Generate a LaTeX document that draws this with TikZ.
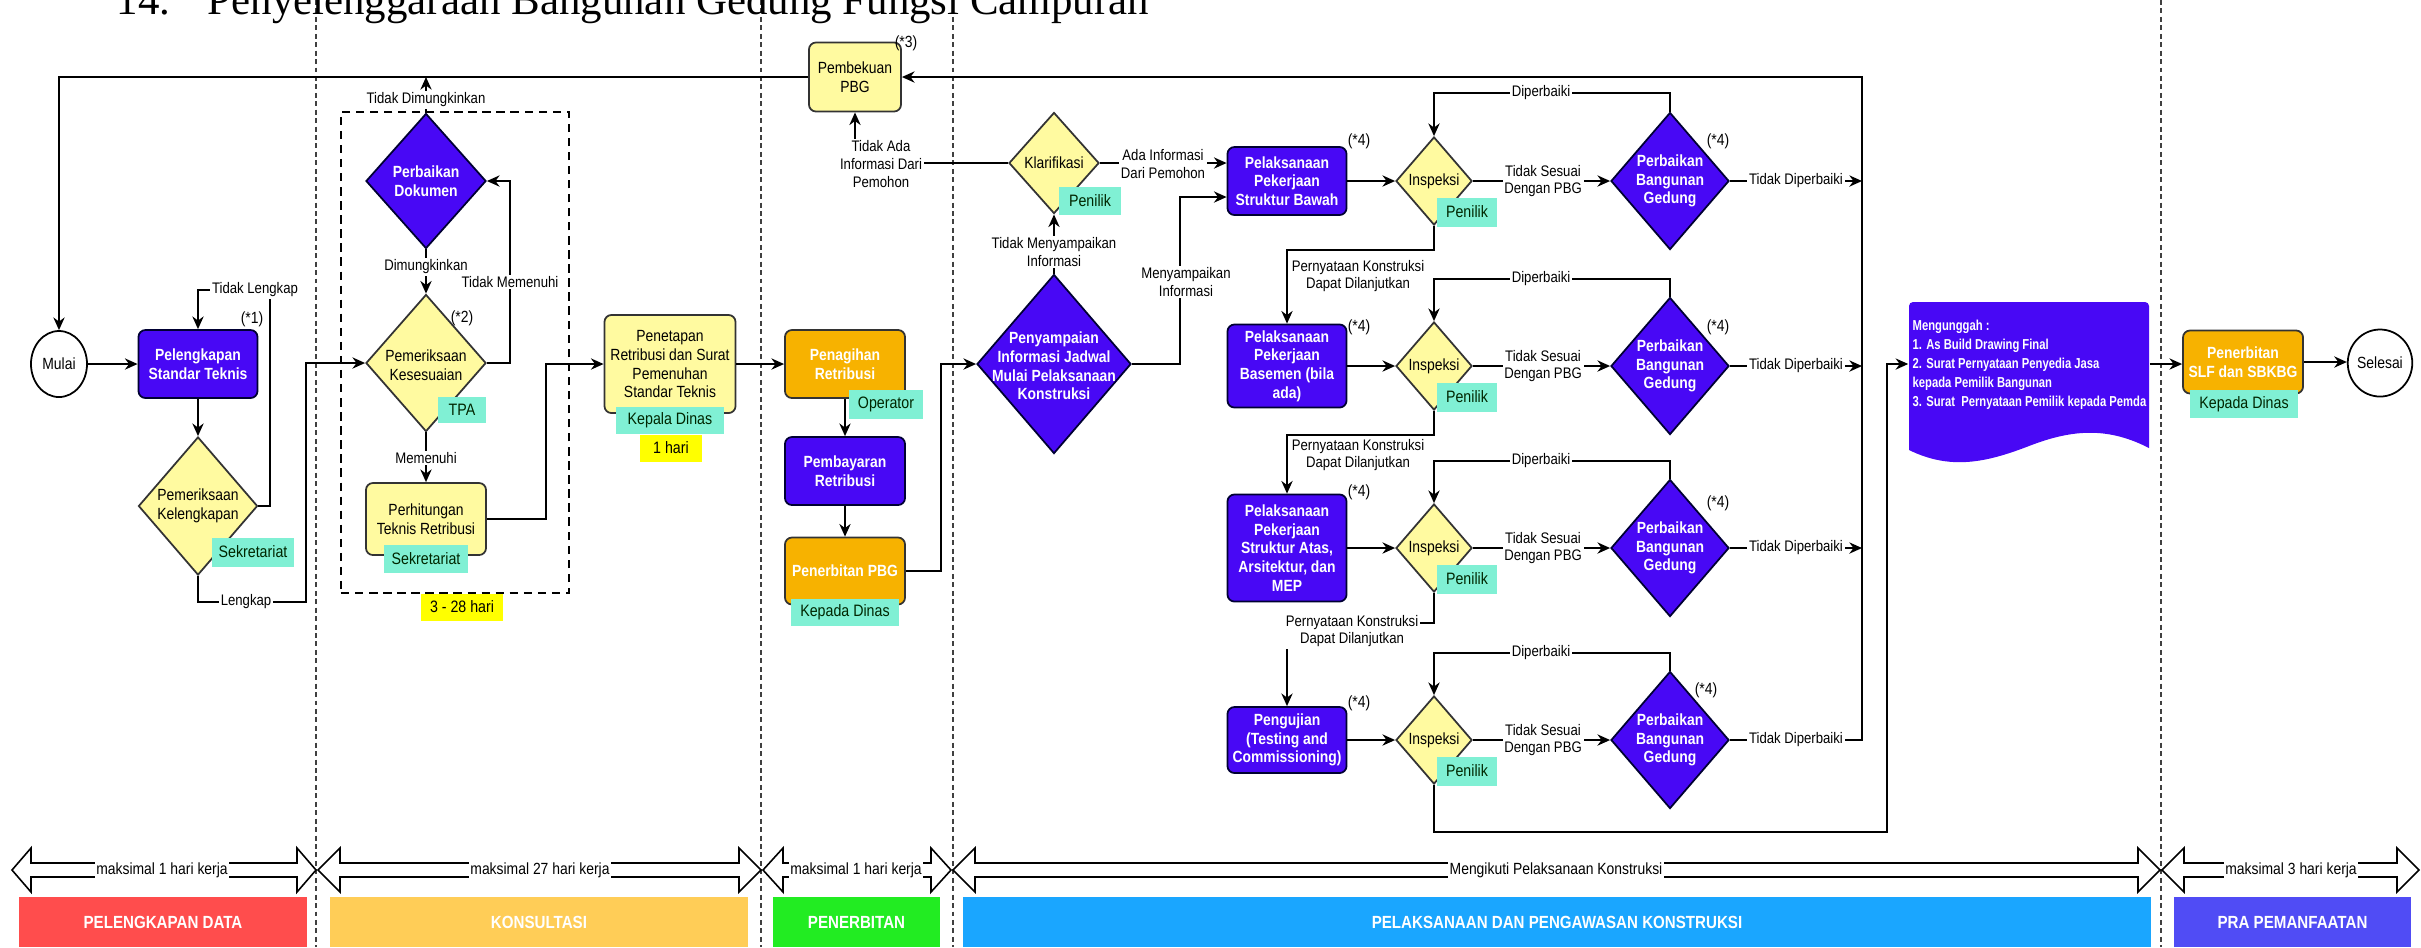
\documentclass[tikz,border=0pt]{standalone}
\usepackage{fontspec}
\setmainfont{Liberation Sans}
\newfontfamily\nf[FakeStretch=0.86]{Liberation Sans}
\newfontfamily\nnf[FakeStretch=0.78]{Liberation Sans}
\newfontfamily\ttlfont{Liberation Serif}
\usetikzlibrary{shapes.geometric,arrows.meta,calc}
\definecolor{bnode}{RGB}{72,8,245}
\definecolor{ynode}{RGB}{255,250,160}
\definecolor{onode}{RGB}{247,178,0}
\definecolor{tagc}{RGB}{128,240,212}
\definecolor{ytag}{RGB}{255,255,0}
\definecolor{barred}{RGB}{255,77,77}
\definecolor{baryel}{RGB}{255,205,87}
\definecolor{bargrn}{RGB}{34,236,34}
\definecolor{barblu}{RGB}{26,166,255}
\definecolor{barpur}{RGB}{80,76,245}
\newcommand\mydblarr[3]{%
  \draw[dblarrow] (#1,870) -- (#1+#3,848) -- (#1+#3,863) -- (#2-#3,863) -- (#2-#3,848) -- (#2,870) -- (#2-#3,892) -- (#2-#3,877) -- (#1+#3,877) -- (#1+#3,892) -- cycle;}
\begin{document}
\begin{tikzpicture}[x=0.01cm,y=-0.01cm,
  conn/.style={line width=0.5pt, draw=black},
  arr/.style={conn,-{Stealth[length=3.6pt,width=3.2pt]}},
  box/.style={rectangle, rounded corners=0.07cm, line width=0.5pt, inner sep=0pt, align=center},
  bbox/.style={box, fill=bnode, draw=black!80!blue, text=white, font=\nf\bfseries\fontsize{4.6}{5.3}\selectfont},
  ybox/.style={box, fill=ynode, draw=black!80, font=\nf\fontsize{4.6}{5.4}\selectfont},
  obox/.style={box, fill=onode, draw=black!80, text=white, font=\nf\bfseries\fontsize{4.6}{5.3}\selectfont},
  dia/.style={diamond, inner sep=0pt, line width=0.5pt},
  bdia/.style={dia, fill=bnode, draw=black!80!blue},
  ydia/.style={dia, fill=ynode, draw=black!80},
  btxt/.style={text=white, align=center, font=\nf\bfseries\fontsize{4.6}{5.3}\selectfont, inner sep=0pt},
  ytxt/.style={text=black, align=center, font=\nf\fontsize{4.6}{5.3}\selectfont, inner sep=0pt},
  tagbox/.style={fill=tagc, inner sep=0pt, font=\nf\fontsize{4.7}{5.4}\selectfont, text=black!85!green},
  ytagbox/.style={tagbox, fill=ytag, text=black},
  lbl/.style={fill=white, inner sep=0.5pt, align=center, font=\nf\fontsize{4.35}{5.1}\selectfont},
  lbln/.style={lbl, fill=none},
  endpt/.style={ellipse, draw=black, line width=0.5pt, fill=white, inner sep=0pt, font=\nf\fontsize{4.6}{5.3}\selectfont},
  divider/.style={line width=0.45pt, draw=black!75, dash pattern=on 1.4pt off 1pt},
  dblarrow/.style={draw=black, line width=0.45pt, fill=white},
  bar/.style={inner sep=0pt, text=white, font=\nf\bfseries\fontsize{5}{5.5}\selectfont},
  blbl/.style={fill=white, inner sep=0.4pt, font=\nf\fontsize{4.6}{5.2}\selectfont},
  star/.style={inner sep=0pt, font=\nf\fontsize{4.6}{5.2}\selectfont},
]
\useasboundingbox (0,0) rectangle (2421,947);
\fill[white] (0,0) rectangle (2421,947);

% phase dividers
\foreach \x in {316,761,953,2161} \draw[divider] (\x,0) -- (\x,947);

% title
\node[anchor=base west, inner sep=0pt, font=\ttlfont\fontsize{12.2}{14}\selectfont] (tnum) at (116,14) {14.};
\node[anchor=base west, inner sep=0pt, font=\ttlfont\fontsize{12.2}{14}\selectfont] (ttl) at (207,14) {Penyelenggaraan Bangunan Gedung Fungsi Campuran};

% consultation dashed frame
\node[draw=black, line width=0.75pt, dash pattern=on 2.4pt off 1.6pt, minimum width=2.28cm, minimum height=4.81cm, inner sep=0pt] (kbox) at (455,352.5) {};

% ---- nodes: data completion ----
\node[endpt, minimum width=0.56cm, minimum height=0.66cm] (mulai) at (59,364) {Mulai};
\node[bbox, minimum width=1.19cm, minimum height=0.68cm] (plk) at (198,364) {Pelengkapan\\Standar Teknis};
\node[ydia, minimum width=1.19cm, minimum height=1.38cm] (pkl) at (198,506) {};
\node[ytxt] (pklT) at (pkl) {Pemeriksaan\\Kelengkapan};
\node[tagbox, minimum width=0.82cm, minimum height=0.29cm] (tg1) at (253,552) {Sekretariat};

% ---- consultation ----
\node[bdia, minimum width=1.2cm, minimum height=1.35cm] (pd) at (426,181) {};
\node[btxt] (pdT) at (pd) {Perbaikan\\Dokumen};
\node[ydia, minimum width=1.2cm, minimum height=1.37cm] (pks) at (426,363) {};
\node[ytxt] (pksT) at (426,365) {Pemeriksaan\\Kesesuaian};
\node[tagbox, minimum width=0.47cm, minimum height=0.26cm] (tg2) at (462,410) {TPA};
\node[ybox, minimum width=1.2cm, minimum height=0.72cm] (phr) at (426,519) {Perhitungan\\Teknis Retribusi};
\node[tagbox, minimum width=0.84cm, minimum height=0.28cm] (tg3) at (426,559) {Sekretariat};
\node[ytagbox, minimum width=0.82cm, minimum height=0.27cm] (tg4) at (462,607) {3 - 28 hari};
\node[ybox, minimum width=1.31cm, minimum height=0.98cm] (pnt) at (670,364) {Penetapan\\Retribusi dan Surat\\Pemenuhan\\Standar Teknis};
\node[tagbox, minimum width=1.08cm, minimum height=0.27cm] (tg5) at (670,420) {Kepala Dinas};
\node[ytagbox, minimum width=0.62cm, minimum height=0.27cm] (tg6) at (671,448) {1 hari};

% ---- issuance ----
\node[ybox, minimum width=0.92cm, minimum height=0.69cm] (pbk) at (855,77) {Pembekuan\\PBG};
\node[obox, minimum width=1.2cm, minimum height=0.68cm] (pgh) at (845,364) {Penagihan\\Retribusi};
\node[tagbox, minimum width=0.73cm, minimum height=0.29cm] (tg7) at (886,404) {Operator};
\node[bbox, minimum width=1.2cm, minimum height=0.68cm] (pby) at (845,471) {Pembayaran\\Retribusi};
\node[obox, minimum width=1.2cm, minimum height=0.67cm] (ppbg) at (845,571) {Penerbitan PBG};
\node[tagbox, minimum width=1.08cm, minimum height=0.27cm] (tg8) at (845,612) {Kepada Dinas};

% ---- construction ----
\node[bdia, minimum width=1.54cm, minimum height=1.79cm] (psi) at (1054,364) {};
\node[btxt] (psiT) at (1054,366) {Penyampaian\\Informasi Jadwal\\Mulai Pelaksanaan\\Konstruksi};
\node[ydia, minimum width=0.9cm, minimum height=1.01cm] (klr) at (1054,163) {};
\node[ytxt] (klrT) at (klr) {Klarifikasi};
\node[tagbox, minimum width=0.61cm, minimum height=0.28cm] (tg9) at (1090,201) {Penilik};

% rows
\node[bbox, minimum width=1.19cm, minimum height=0.68cm] (p1) at (1287,181) {Pelaksanaan\\Pekerjaan\\Struktur Bawah};
\node[bbox, minimum width=1.19cm, minimum height=0.83cm] (p2) at (1287,366) {Pelaksanaan\\Pekerjaan\\Basemen (bila\\ada)};
\node[bbox, minimum width=1.19cm, minimum height=1.07cm] (p3) at (1287,548) {Pelaksanaan\\Pekerjaan\\Struktur Atas,\\Arsitektur, dan\\MEP};
\node[bbox, minimum width=1.19cm, minimum height=0.66cm] (p4) at (1287,740) {Pengujian\\(Testing and\\Commissioning)};
\foreach \i/\y in {1/181,2/366,3/548,4/740}{
  \node[ydia, minimum width=0.76cm, minimum height=0.88cm] (i\i) at (1434,\y) {};
  \node[ytxt] (i\i T) at (i\i) {Inspeksi};
  \node[tagbox, minimum width=0.6cm, minimum height=0.29cm] (tgi\i) at (1467,\y+31) {Penilik};
  \node[bdia, minimum width=1.18cm, minimum height=1.37cm] (pb\i) at (1670,\y) {};
  \node[btxt] (pb\i T) at (pb\i) {Perbaikan\\Bangunan\\Gedung};
}

% ---- pre-use ----
\node[inner sep=0pt, minimum width=2.4cm, minimum height=1.26cm] (doc) at (2029,364) {};
\fill[bnode] (1909,450) [rounded corners=0.04cm] -- (1909,302) -- (2149,302) [sharp corners] -- (2149,448)
  .. controls (2110,428) and (2075,428) .. (2029,446) .. controls (1985,463) and (1950,470) .. (1909,450) -- cycle;
\node[anchor=west, text=white, font=\nnf\bfseries\fontsize{4.1}{5.4}\selectfont, align=left, inner sep=0pt] (docT) at (1912,365) {Mengunggah :\\1. As Build Drawing Final\\2. Surat Pernyataan Penyedia Jasa\\kepada Pemilik Bangunan\\3. Surat~ Pernyataan Pemilik kepada Pemda};
\node[obox, minimum width=1.2cm, minimum height=0.63cm] (slf) at (2243,362) {Penerbitan\\SLF dan SBKBG};
\node[tagbox, minimum width=1.08cm, minimum height=0.28cm] (tg10) at (2244,404) {Kepada Dinas};
\node[endpt, minimum width=0.55cm, minimum height=0.67cm] (sls) at (2380,363) {Selesai};

% ---- connectors ----
\coordinate (loopTop) at (1862,77);
\draw[arr] (pb4.east) -- (1862,740) -- (loopTop) -- (pbk.east);
\draw[arr] (pbk.west) -- (59,77) -- (mulai.north);
\draw[arr] (mulai.east) -- (plk.west);
\draw[arr] (plk.south) -- (pkl.north);
\draw[arr] (pkl.east) -- (270,506) -- (270,290) -- (198,290) -- (plk.north);
\draw[arr] (pkl.south) -- (198,602) -- (306,602) -- (306,363) -- (pks.west);
\draw[arr] (pks.south) -- (phr.north);
\draw[arr] (pks.east) -- (510,363) -- (510,181) -- (pd.east);
\draw[arr] (pd.south) -- (pks.north);
\draw[arr] (pd.north) -- (426,77);
\draw[arr] (phr.east) -- (546,519) -- (546,364) -- (pnt.west);
\draw[arr] (pnt.east) -- (pgh.west);
\draw[arr] (pgh.south) -- (pby.north);
\draw[arr] (pby.south) -- (ppbg.north);
\draw[arr] (ppbg.east) -- (941,571) -- (941,364) -- (psi.west);
\draw[arr] (psi.north) -- (klr.south);
\draw[arr] (klr.west) -- (855,163) -- (pbk.south);
\draw[arr] (klr.east) -- (klr.east -| p1.west);
\coordinate (m1) at (1180,197);
\draw[arr] (psi.east) -- (1180,364) -- (m1) -- (m1 -| p1.west);
\foreach \i/\y/\d in {1/181/93,2/366/279,3/548/461,4/740/653}{
  \draw[arr] (p\i.east) -- (i\i.west);
  \draw[arr] (i\i.east) -- (pb\i.west);
  \draw[arr] (pb\i.north) -- (1670,\d) -- (1434,\d) -- (i\i.north);
}
\foreach \i/\y in {1/181,2/366,3/548}{
  \draw[arr] (pb\i.east) -- (1862,\y);
}
\draw[arr] (i1.south) -- (1434,250) -- (1287,250) -- (p2.north);
\draw[arr] (i2.south) -- (1434,435) -- (1287,435) -- (p3.north);
\draw[arr] (i3.south) -- (1434,623) -- (1287,623) -- (p4.north);
\draw[arr] (i4.south) -- (1434,832) -- (1887,832) -- (1887,364) -- (doc.west);
\draw[arr] (doc.east) -- (doc.east -| slf.west);
\draw[arr] (slf.east) -- (slf.east -| sls.west);

% ---- connector labels ----
\node[lbl] (lb1) at (426,100) {Tidak Dimungkinkan};
\node[lbl] (lb2) at (426,267) {Dimungkinkan};
\node[lbl] (lb3) at (510,282) {Tidak Memenuhi};
\node[lbl] (lb4) at (426,458) {Memenuhi};
\node[lbl] (lb5) at (255,290) {Tidak Lengkap};
\node[lbl] (lb6) at (246,602) {Lengkap};
\node[lbl] (lb7) at (881,164) {Tidak Ada\\Informasi Dari\\Pemohon};
\node[lbl] (lb8) at (1054,252) {Tidak Menyampaikan\\Informasi};
\node[lbl] (lb9) at (1163,164) {Ada Informasi\\Dari Pemohon};
\node[lbl] (lb10) at (1186,282) {Menyampaikan\\Informasi};
\foreach \i/\y/\d in {1/181/93,2/366/279,3/548/461,4/740/653}{
  \node[lbl] (ts\i) at (1543,\y) {Tidak Sesuai\\Dengan PBG};
  \node[lbl] (dp\i) at (1541,\d) {Diperbaiki};
  \node[lbl] (td\i) at (1796,\y) {Tidak Diperbaiki};
}
\node[lbln] (pn1) at (1358,276) {Pernyataan Konstruksi\\Dapat Dilanjutkan};
\node[lbln] (pn2) at (1358,455) {Pernyataan Konstruksi\\Dapat Dilanjutkan};
\node[lbl] (pn3) at (1352,631) {Pernyataan Konstruksi\\Dapat Dilanjutkan};

% notes
\node[star] (s1) at (252,319) {(*1)};
\node[star] (s2) at (462,318) {(*2)};
\node[star] (s3) at (906,43) {(*3)};
\node[star] (s4a) at (1359,141) {(*4)};
\node[star] (s4b) at (1359,327) {(*4)};
\node[star] (s4c) at (1359,492) {(*4)};
\node[star] (s4d) at (1359,703) {(*4)};
\node[star] (s4e) at (1718,141) {(*4)};
\node[star] (s4f) at (1718,327) {(*4)};
\node[star] (s4g) at (1718,503) {(*4)};
\node[star] (s4h) at (1706,690) {(*4)};

% ---- duration arrows ----
\mydblarr{12}{316}{19}
\mydblarr{318}{761}{22}
\mydblarr{763}{951}{20}
\mydblarr{953}{2160}{22}
\mydblarr{2162}{2419}{22}
\node[blbl] (d1) at (162,870) {maksimal 1 hari kerja};
\node[blbl] (d2) at (540,870) {maksimal 27 hari kerja};
\node[blbl] (d3) at (856,870) {maksimal 1 hari kerja};
\node[blbl] (d4) at (1556,870) {Mengikuti Pelaksanaan Konstruksi};
\node[blbl] (d5) at (2291,870) {maksimal 3 hari kerja};

% ---- phase bars ----
\node[bar, fill=barred, minimum width=2.88cm, minimum height=0.5cm] (bar1) at (163,922) {PELENGKAPAN DATA};
\node[bar, fill=baryel, minimum width=4.18cm, minimum height=0.5cm] (bar2) at (539,922) {KONSULTASI};
\node[bar, fill=bargrn, minimum width=1.67cm, minimum height=0.5cm] (bar3) at (856.5,922) {PENERBITAN};
\node[bar, fill=barblu, minimum width=11.88cm, minimum height=0.5cm] (bar4) at (1557,922) {PELAKSANAAN DAN PENGAWASAN KONSTRUKSI};
\node[bar, fill=barpur, minimum width=2.37cm, minimum height=0.5cm] (bar5) at (2292.5,922) {PRA PEMANFAATAN};
\end{tikzpicture}
\end{document}
